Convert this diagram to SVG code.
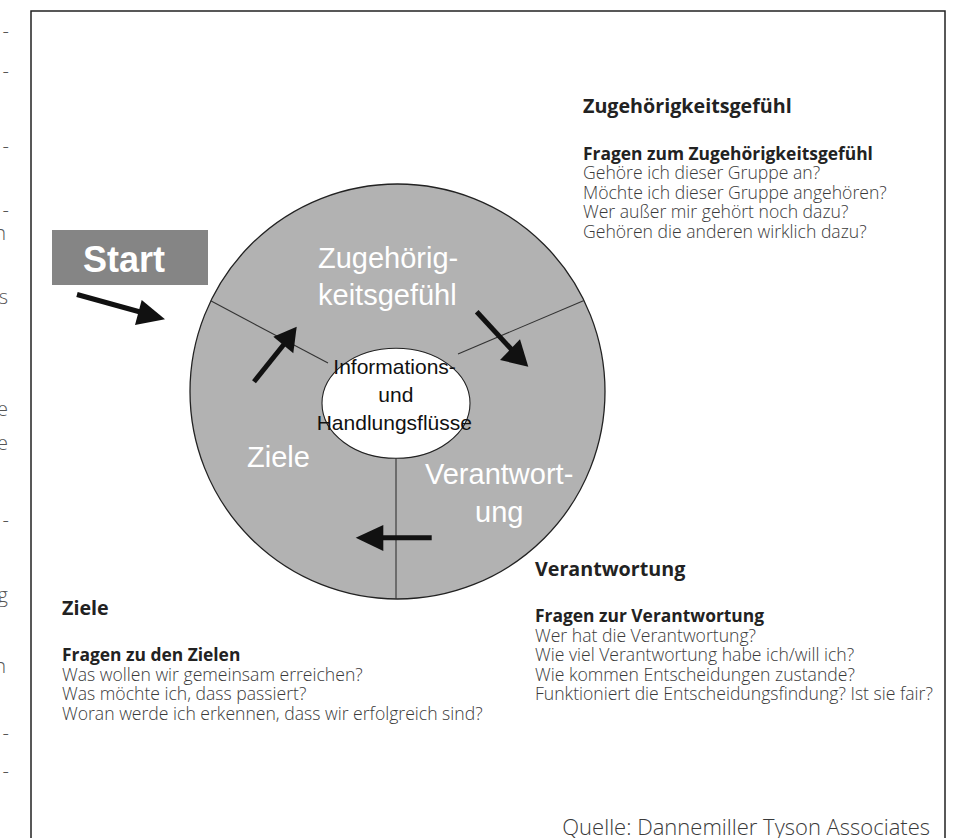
<svg xmlns="http://www.w3.org/2000/svg" width="954" height="838" viewBox="0 0 954 838">
<style>
.frag{font-family:"Open Sans","Noto Sans",sans-serif;font-weight:300;font-size:20px;fill:#555}
.lbl{font-family:"Liberation Sans",Arial,sans-serif;font-size:29px;fill:#fff}
.ctr{font-family:"Liberation Sans",Arial,sans-serif;font-size:21px;fill:#111}
.h{font-family:"Open Sans","Noto Sans",sans-serif;font-weight:700;font-size:19.7px;fill:#222}
.sh{font-family:"Open Sans","Noto Sans",sans-serif;font-weight:700;font-size:17.4px;fill:#222}
.b{font-family:"Open Sans","Noto Sans",sans-serif;font-weight:300;font-size:17.6px;fill:#3a3a3a}
.src{font-family:"Open Sans","Noto Sans",sans-serif;font-weight:300;font-size:22px;fill:#3a3a3a}
.div{stroke:#333;stroke-width:1.1;fill:none}
.shaft{stroke:#111;stroke-width:5;fill:none}
.head{fill:#111}
</style>
<rect width="954" height="838" fill="#fff"/>
<g id="page-fragments" class="frag" text-anchor="end">
<text x="9" y="38">-</text>
<text x="9" y="78">-</text>
<text x="9" y="153">-</text>
<text x="9" y="217">-</text>
<text x="6" y="240">n</text>
<text x="8" y="304">s</text>
<text x="8" y="416">e</text>
<text x="8" y="450">e</text>
<text x="9" y="527">-</text>
<text x="8" y="602">g</text>
<text x="6" y="673">n</text>
<text x="9" y="740">-</text>
<text x="9" y="778">-</text>
</g>
<rect id="frame" x="31" y="11" width="914" height="840" fill="none" stroke="#222" stroke-width="1.5"/>
<g id="ring">
<circle cx="397.5" cy="391.5" r="207.5" fill="#b2b2b2" stroke="#222" stroke-width="1.3"/>
<line class="div" x1="210.7" y1="300.8" x2="328" y2="363"/>
<line class="div" x1="458" y1="354" x2="584" y2="300.5"/>
<line class="div" x1="396" y1="458" x2="396" y2="599"/>
</g>
<g id="zugehoerigkeit-sector" class="lbl">
<text x="318" y="268">Zugehörig-</text>
<text x="318" y="305">keitsgefühl</text>
</g>
<g id="ziele-sector" class="lbl">
<text x="247" y="467">Ziele</text>
</g>
<g id="verantwortung-sector" class="lbl">
<text x="425" y="484">Verantwort-</text>
<text x="475" y="521.5">ung</text>
</g>
<g id="center">
<ellipse cx="396" cy="403.3" rx="74" ry="55" fill="#fff" stroke="#222" stroke-width="1.1"/>
<text class="ctr" x="333.3" y="374.3">Informations-</text>
<text class="ctr" x="378.3" y="401.7">und</text>
<text class="ctr" x="316.7" y="430">Handlungsflüsse</text>
</g>
<g id="start">
<rect x="52" y="230" width="156" height="55" fill="#858585"/>
<text x="83" y="272" font-family="Liberation Sans, Arial, sans-serif" font-weight="bold" font-size="36" fill="#fff">Start</text>
</g>
<g id="connectors">
<line class="shaft" x1="77" y1="294.5" x2="142" y2="312.5"/>
<polygon class="head" points="165,319.3 141.7,300 135,325"/>
<line class="shaft" x1="254" y1="381.7" x2="285" y2="343"/>
<polygon class="head" points="296.7,326.7 273.3,336.7 293.3,353.3"/>
<line class="shaft" x1="476.7" y1="311.7" x2="512" y2="350"/>
<polygon class="head" points="528.3,366.7 500,360 520,339.3"/>
<line class="shaft" x1="431.7" y1="537.7" x2="380" y2="537.7"/>
<polygon class="head" points="355.7,537.7 383.3,525 383.3,551"/>
</g>
<g id="text-zugehoerigkeit">
<text class="h" x="583" y="113">Zugehörigkeitsgefühl</text>
<text class="sh" x="583" y="159.5">Fragen zum Zugehörigkeitsgefühl</text>
<text class="b" x="583" y="179">Gehöre ich dieser Gruppe an?</text>
<text class="b" x="583" y="198.5">Möchte ich dieser Gruppe angehören?</text>
<text class="b" x="583" y="218">Wer außer mir gehört noch dazu?</text>
<text class="b" x="583" y="237.5">Gehören die anderen wirklich dazu?</text>
</g>
<g id="text-verantwortung">
<text class="h" x="535" y="576">Verantwortung</text>
<text class="sh" x="535" y="622">Fragen zur Verantwortung</text>
<text class="b" x="535" y="641.5">Wer hat die Verantwortung?</text>
<text class="b" x="535" y="661">Wie viel Verantwortung habe ich/will ich?</text>
<text class="b" x="535" y="680.5">Wie kommen Entscheidungen zustande?</text>
<text class="b" x="535" y="700">Funktioniert die Entscheidungsfindung? Ist sie fair?</text>
</g>
<g id="text-ziele">
<text class="h" x="62" y="615">Ziele</text>
<text class="sh" x="62" y="661">Fragen zu den Zielen</text>
<text class="b" x="62" y="680.5">Was wollen wir gemeinsam erreichen?</text>
<text class="b" x="62" y="700">Was möchte ich, dass passiert?</text>
<text class="b" x="62" y="719.5">Woran werde ich erkennen, dass wir erfolgreich sind?</text>
</g>
<text id="source" class="src" x="930" y="835" text-anchor="end">Quelle: Dannemiller Tyson Associates</text>
</svg>
